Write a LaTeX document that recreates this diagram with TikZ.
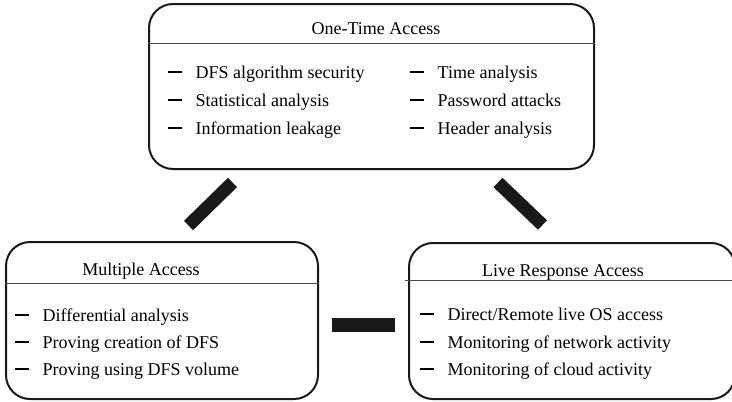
\documentclass[tikz,border=0pt]{standalone}
\usepackage{fontspec}
\setmainfont{Liberation Serif}
\newcommand{\itemdash}{\rule[5.5pt]{13.5pt}{1.4pt}\hspace{14pt}}
\tikzset{
  panel/.style={draw=black!90, line width=2pt, rounded corners=24pt,
    rectangle, inner sep=0pt},
  sep/.style={draw=black!70, line width=1pt},
  bar/.style={draw=black!90, line width=13pt},
  head/.style={font=\fontsize{18}{20}\selectfont, inner sep=0pt, anchor=base},
  item/.style={font=\fontsize{18}{20}\selectfont, inner sep=0pt, anchor=base west},
}
\begin{document}
\begin{tikzpicture}[x=1pt,y=-1pt]
  \useasboundingbox (0,0) rectangle (732,402);
  \clip (0,0) rectangle (732,402);

  % the three access panels
  \node[panel, minimum width=445pt, minimum height=165pt] (top) at (371.5,86.5) {};
  \node[panel, minimum width=312pt, minimum height=157pt] (multi) at (162,320.5) {};
  \node[panel, minimum width=326pt, minimum height=156pt] (live) at (572,321) {};

  % title separators
  \draw[sep] (top.west |- 0,43) -- (top.east |- 0,43);
  \draw[sep] (multi.west |- 0,283) -- (multi.east |- 0,283);
  \draw[sep] (405,280) -- (live.east |- 0,280);

  % titles
  \node[head] (topT) at (376,34) {One-Time Access};
  \node[head] (multiT) at (141,275) {Multiple Access};
  \node[head] (liveT) at (563,276) {Live Response Access};

  % one-time access items
  \node[item] (t1) at (168,78) {\itemdash DFS algorithm security};
  \node[item] (t2) at (168,106) {\itemdash Statistical analysis};
  \node[item] (t3) at (168,134) {\itemdash Information leakage};
  \node[item] (t4) at (410,78) {\itemdash Time analysis};
  \node[item] (t5) at (410,106) {\itemdash Password attacks};
  \node[item] (t6) at (410,134) {\itemdash Header analysis};

  % multiple access items
  \node[item] (m1) at (15,321) {\itemdash Differential analysis};
  \node[item] (m2) at (15,348) {\itemdash Proving creation of DFS};
  \node[item] (m3) at (15,375) {\itemdash Proving using DFS volume};

  % live response items
  \node[item] (l1) at (420,320) {\itemdash Direct/Remote live OS access};
  \node[item] (l2) at (420,348) {\itemdash Monitoring of network activity};
  \node[item] (l3) at (420,375) {\itemdash Monitoring of cloud activity};

  % linking bars between the panels
  \coordinate (a1) at (232.5,182.5);
  \coordinate (a2) at (188.5,225.5);
  \coordinate (b1) at (498,182.5);
  \coordinate (b2) at (542.5,225);
  \coordinate (c1) at (332,325);
  \coordinate (c2) at (395,325);
  \draw[bar] (a1) -- (a2);
  \draw[bar] (b1) -- (b2);
  \draw[bar, line width=14pt] (c1) -- (c2);
\end{tikzpicture}
\end{document}
